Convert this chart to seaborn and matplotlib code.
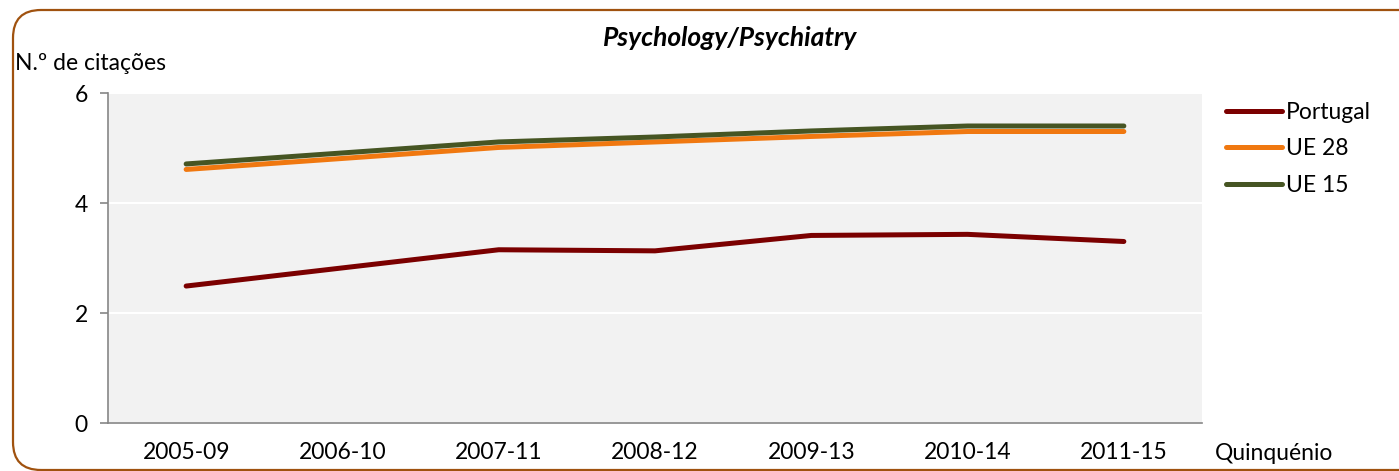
import matplotlib

matplotlib.use("Agg")  # headless backend
import matplotlib.pyplot as plt  # noqa: E402
import seaborn as sns  # noqa: E402
import pandas as pd  # noqa: E402
from matplotlib.patches import FancyBboxPatch  # noqa: E402
from matplotlib.transforms import IdentityTransform  # noqa: E402

periods = ["2005-09", "2006-10", "2007-11", "2008-12", "2009-13", "2010-14", "2011-15"]
portugal = [2.49, 2.82, 3.15, 3.13, 3.41, 3.43, 3.30]
ue28 = [4.61, 4.81, 5.01, 5.11, 5.21, 5.30, 5.30]
ue15 = [4.71, 4.91, 5.11, 5.20, 5.31, 5.40, 5.40]
series_names = ["Portugal", "UE 28", "UE 15"]
colors = ["#7B0000", "#F07810", "#465523"]

df = pd.concat(
    [
        pd.DataFrame({"period": periods, "value": vals, "serie": name})
        for name, vals in zip(series_names, [portugal, ue28, ue15])
    ],
    ignore_index=True,
)

sns.set_style("white")
plt.rcParams["font.family"] = ["Lato", "DejaVu Sans"]
plt.rcParams["text.color"] = "black"
plt.rcParams["xtick.labelcolor"] = "black"
plt.rcParams["ytick.labelcolor"] = "black"
FS = 16.5

W, H, DPI = 1399, 471, 100
fig = plt.figure(figsize=(W / DPI, H / DPI), dpi=DPI)
ax = fig.add_axes([108 / W, 1 - 423 / H, (1202 - 108) / W, (423 - 93) / H])
ax.set_facecolor("#F2F2F2")

sns.lineplot(
    data=df, x="period", y="value", hue="serie", hue_order=series_names,
    palette=colors, linewidth=3.6, ax=ax, sort=False,
    solid_capstyle="round", solid_joinstyle="round",
)

ax.set_xlim(-0.5, len(periods) - 0.5)
ax.set_ylim(0, 6)
ax.set_yticks([0, 2, 4, 6])
ax.yaxis.grid(True, color="white", linewidth=1.5)
ax.set_axisbelow(True)
ax.set_xlabel("")
ax.set_ylabel("")

for side in ["top", "right"]:
    ax.spines[side].set_visible(False)
for side in ["left", "bottom"]:
    ax.spines[side].set_color("#868686")
    ax.spines[side].set_linewidth(1.2)

ax.set_xticks(range(len(periods)))
ax.set_xticklabels(periods)
ax.set_xticks([i - 0.5 for i in range(len(periods) + 1)], minor=True)
ax.tick_params(axis="x", which="major", length=0, pad=14, labelsize=FS, labelcolor="black")
ax.tick_params(axis="x", which="minor", length=6, width=1.2, color="#868686", direction="out")
ax.tick_params(axis="y", length=5.5, width=1.2, color="#868686", direction="out",
               labelsize=FS, pad=9, left=True, labelcolor="black")

leg = ax.legend(
    loc="center left", bbox_to_anchor=(1226 / W, 1 - 149 / H),
    bbox_transform=fig.transFigure, frameon=False, fontsize=FS,
    handlelength=2.45, handletextpad=0.15, labelspacing=0.68, borderaxespad=0,
    borderpad=0,
)
for t in leg.get_texts():
    t.set_color("black")

fig.text(730 / W, 1 - 38 / H, "Psychology/Psychiatry", ha="center", va="center",
         fontsize=19, fontweight="bold", fontstyle="italic")
fig.text(15 / W, 1 - 63 / H, "N.º de citações", ha="left", va="center", fontsize=FS)
fig.text(1215 / W, 1 - 453 / H, "Quinquénio", ha="left", va="center", fontsize=FS)

border = FancyBboxPatch(
    (13, 1), 1450, 460, boxstyle="round,pad=0,rounding_size=28",
    transform=IdentityTransform(), facecolor="none", edgecolor="#A0520F", linewidth=1.6,
)
fig.patches.append(border)

fig.savefig("out.png", dpi=DPI)
plt.close(fig)
